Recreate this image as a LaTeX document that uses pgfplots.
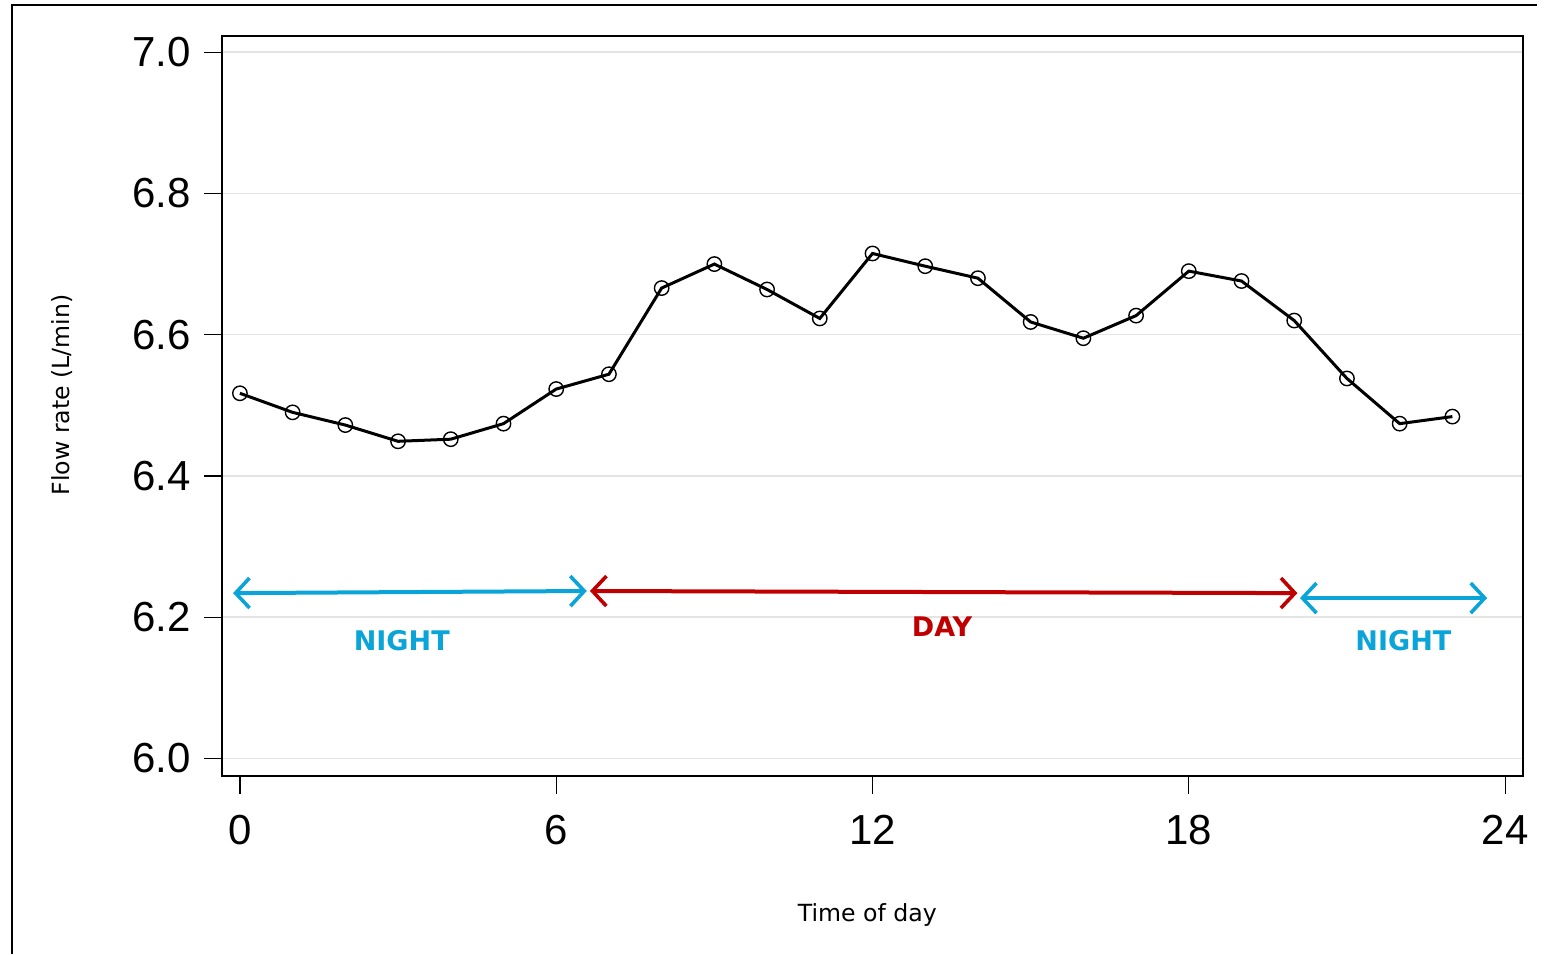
\documentclass[border=0pt]{standalone}
\usepackage{fontspec}
\setmainfont{DejaVu Sans}
\newfontfamily\arialf{Liberation Sans}
\usepackage{pgfplots}
\pgfplotsset{compat=1.18}
\usetikzlibrary{arrows.meta}
\definecolor{nightc}{RGB}{10,164,216}
\definecolor{dayc}{RGB}{192,0,0}
\definecolor{gridc}{RGB}{228,228,228}
\tikzset{barb/.style={line width=2pt, {Straight Barb[length=7pt,width=15pt,line width=1.8pt]}-{Straight Barb[length=7pt,width=15pt,line width=1.8pt]}}}
\begin{document}
\begin{tikzpicture}
\useasboundingbox (-111pt,-89pt) rectangle (661.5pt,388pt);
\draw[line width=1pt] (-105pt,-89pt) -- (-105pt,385.5pt) -- (657.5pt,385.5pt);
\begin{axis}[
  at={(0pt,0pt)}, anchor=south west,
  scale only axis, width=650.5pt, height=370pt,
  xmin=-0.34, xmax=24.34, ymin=5.975, ymax=7.023,
  xtick={0,6,12,18,24}, ytick={6.0,6.2,6.4,6.6,6.8,7.0},
  xtick pos=bottom, ytick pos=left,
  tick align=outside, major tick length=9pt,
  tick style={line width=0.6pt, black},
  axis line style={line width=0.8pt},
  ymajorgrids, grid style={gridc, line width=0.8pt},
  /pgf/number format/assume math mode=true,
  y tick label style={/pgf/number format/fixed, /pgf/number format/fixed zerofill, /pgf/number format/precision=1, xshift=-3pt},
  ticklabel style={font=\arialf\fontsize{21}{25}\selectfont},
  x tick label style={yshift=-7pt},
  xlabel={Time of day}, ylabel={Flow rate (L/min)},
  label style={font=\fontsize{11.8}{14}\selectfont},
  xlabel style={at={(axis description cs:0.496,-0.188)}, anchor=center},
  ylabel style={at={(axis description cs:-0.123,0.515)}, anchor=center},
  clip=false,
]
\addplot[black, line width=1.5pt, mark=o, mark size=3.6pt, mark options={line width=0.7pt, fill=none}]
coordinates {
(0,6.517) (1,6.490) (2,6.472) (3,6.449) (4,6.452) (5,6.474) (6,6.523) (7,6.544)
(8,6.666) (9,6.700) (10,6.664) (11,6.623) (12,6.715) (13,6.697) (14,6.680) (15,6.618)
(16,6.595) (17,6.627) (18,6.690) (19,6.676) (20,6.620) (21,6.538) (22,6.474) (23,6.484)
};
\draw[nightc, barb] (axis cs:-0.13,6.234) -- (axis cs:6.58,6.237);
\draw[dayc, barb] (axis cs:6.64,6.237) -- (axis cs:20.06,6.234);
\draw[nightc, barb] (axis cs:20.11,6.227) -- (axis cs:23.66,6.227);
\node[nightc, font=\bfseries\fontsize{13.5}{16}\selectfont] at (axis cs:3.07,6.167) {NIGHT};
\node[dayc, font=\bfseries\fontsize{13.5}{16}\selectfont] at (axis cs:13.32,6.187) {DAY};
\node[nightc, font=\bfseries\fontsize{13.5}{16}\selectfont] at (axis cs:22.07,6.167) {NIGHT};
\end{axis}
\end{tikzpicture}
\end{document}
